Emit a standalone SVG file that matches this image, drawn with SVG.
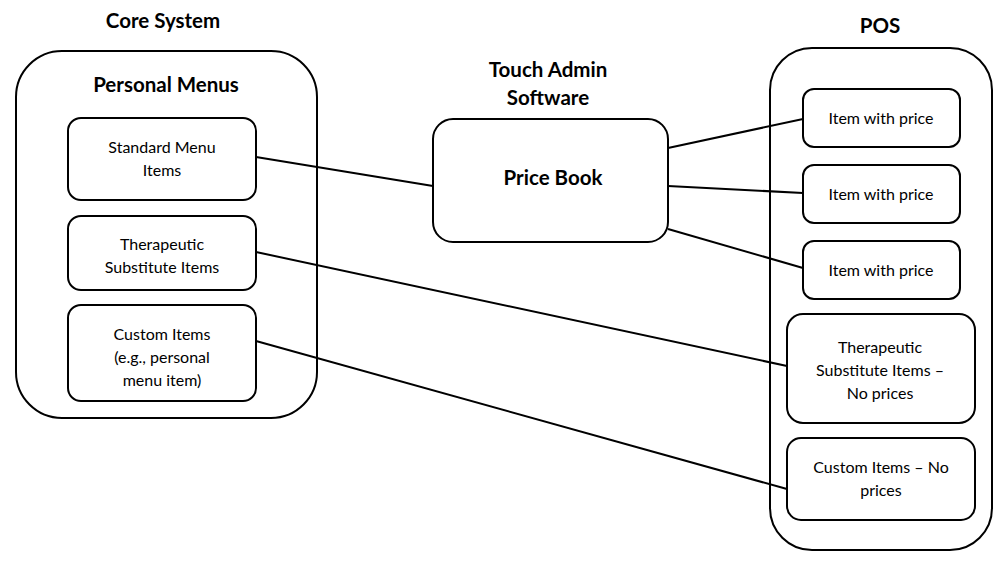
<svg xmlns="http://www.w3.org/2000/svg" width="1003" height="564" viewBox="0 0 1003 564">
<style>
.box{fill:#fff;stroke:#000;stroke-width:2}
.t{font-family:Lato,"Open Sans","Liberation Sans",sans-serif;font-size:16px;fill:#000;text-anchor:middle}
.h{font-family:Lato,"Open Sans","Liberation Sans",sans-serif;font-size:20.5px;font-weight:bold;fill:#000;text-anchor:middle}
.c{stroke:#000;stroke-width:2;fill:none}
</style>
<rect width="1003" height="564" fill="#fff"/>
<g id="core">
<rect class="box" x="16" y="51" width="301" height="367" rx="46"/>
<text class="h" x="163" y="28">Core System</text>
<text class="h" x="166" y="92">Personal Menus</text>
</g>
<g id="pos">
<rect class="box" x="770" y="48" width="222" height="502" rx="42"/>
<text class="h" x="880" y="33">POS</text>
</g>
<g id="connectors">
<line class="c" x1="256" y1="157" x2="433" y2="186"/>
<line class="c" x1="256" y1="252" x2="787" y2="366"/>
<line class="c" x1="256" y1="341" x2="787" y2="489"/>
<line class="c" x1="668" y1="148" x2="803" y2="119"/>
<line class="c" x1="668" y1="186" x2="803" y2="193"/>
<line class="c" x1="668" y1="229" x2="803" y2="268"/>
</g>
<g id="standard">
<rect class="box" x="68" y="118" width="188" height="82" rx="13"/>
<text class="t" x="162" y="153">Standard Menu</text>
<text class="t" x="162" y="176">Items</text>
</g>
<g id="therapeutic">
<rect class="box" x="68" y="216" width="188" height="74" rx="13"/>
<text class="t" x="162" y="250">Therapeutic</text>
<text class="t" x="162" y="273">Substitute Items</text>
</g>
<g id="custom">
<rect class="box" x="68" y="305" width="188" height="96" rx="13"/>
<text class="t" x="162" y="340">Custom Items</text>
<text class="t" x="162" y="363">(e.g., personal</text>
<text class="t" x="162" y="386">menu item)</text>
</g>
<g id="pricebook">
<rect class="box" x="433" y="119" width="235" height="123" rx="20"/>
<text class="h" x="548" y="77">Touch Admin</text>
<text class="h" x="548" y="105">Software</text>
<text class="h" x="553" y="185">Price Book</text>
</g>
<g id="item1">
<rect class="box" x="803" y="89" width="157" height="58" rx="11"/>
<text class="t" x="881" y="124">Item with price</text>
</g>
<g id="item2">
<rect class="box" x="803" y="165" width="157" height="58" rx="11"/>
<text class="t" x="881" y="200">Item with price</text>
</g>
<g id="item3">
<rect class="box" x="803" y="241" width="157" height="58" rx="11"/>
<text class="t" x="881" y="276">Item with price</text>
</g>
<g id="pos-therapeutic">
<rect class="box" x="787" y="314" width="188" height="109" rx="16"/>
<text class="t" x="880" y="353">Therapeutic</text>
<text class="t" x="880" y="376">Substitute Items –</text>
<text class="t" x="880" y="399">No prices</text>
</g>
<g id="pos-custom">
<rect class="box" x="787" y="438" width="188" height="82" rx="14"/>
<text class="t" x="881" y="473">Custom Items – No</text>
<text class="t" x="881" y="496">prices</text>
</g>
</svg>
